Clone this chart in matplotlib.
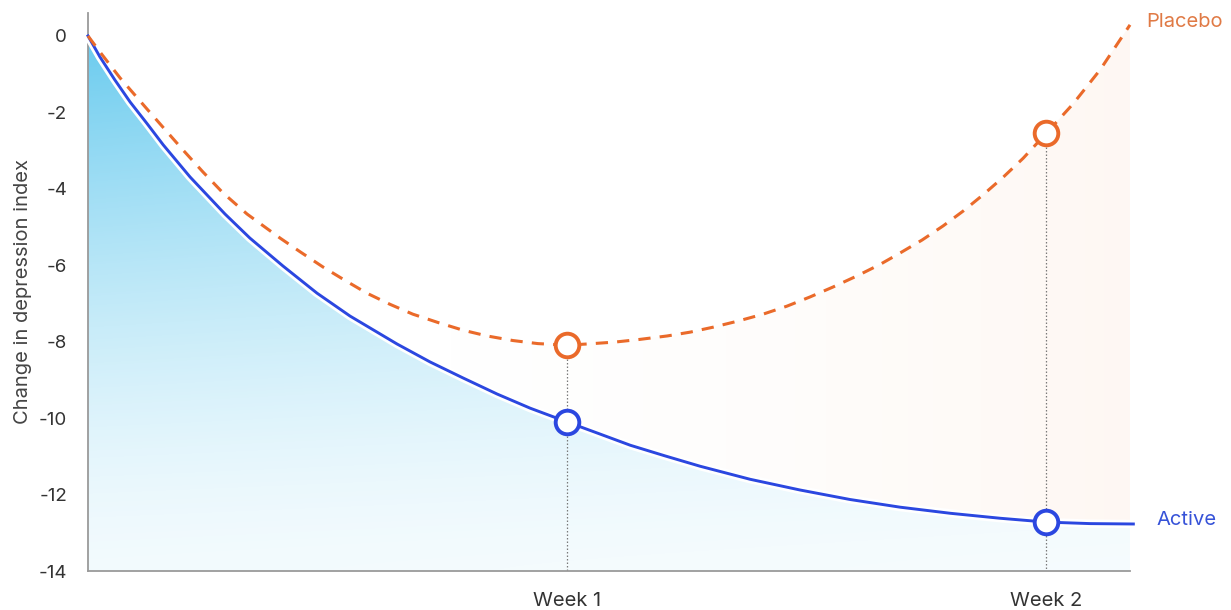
import numpy as np
import matplotlib
matplotlib.use("Agg")
import matplotlib.pyplot as plt
from matplotlib.path import Path

plt.rcParams['font.family'] = ['Inter', 'DejaVu Sans']

# time axis in weeks
active_x = [0.0, 0.025, 0.056, 0.088, 0.123, 0.157, 0.213, 0.286, 0.338, 0.407,
            0.478, 0.547, 0.645, 0.714, 0.783, 0.854, 0.923, 1.0, 1.063, 1.132,
            1.205, 1.278, 1.382, 1.486, 1.591, 1.695, 1.80, 1.904, 2.0, 2.092, 2.182]
active_y = [0.0, -0.55, -1.15, -1.73, -2.29, -2.85, -3.69, -4.66, -5.29, -6.02,
            -6.73, -7.33, -8.06, -8.53, -8.95, -9.37, -9.74, -10.10, -10.39, -10.71,
            -10.99, -11.26, -11.60, -11.88, -12.13, -12.33, -12.49, -12.62, -12.72,
            -12.76, -12.77]

placebo_x = [0.0, 0.025, 0.067, 0.123, 0.165, 0.198, 0.240, 0.282, 0.332, 0.401,
             0.443, 0.491, 0.537, 0.582, 0.630, 0.678, 0.731, 0.783, 0.833, 0.887,
             0.939, 1.0, 1.042, 1.100, 1.152, 1.209, 1.257, 1.305, 1.357, 1.409,
             1.459, 1.507, 1.555, 1.605, 1.653, 1.695, 1.741, 1.785, 1.827, 1.868,
             1.910, 1.952, 2.0, 2.056, 2.113, 2.175]
placebo_y = [0.0, -0.42, -1.10, -1.91, -2.51, -2.98, -3.56, -4.11, -4.66, -5.29,
             -5.65, -6.05, -6.40, -6.73, -7.02, -7.28, -7.50, -7.70, -7.85, -7.97,
             -8.05, -8.09, -8.06, -8.01, -7.94, -7.85, -7.75, -7.62, -7.46, -7.28,
             -7.07, -6.83, -6.57, -6.28, -5.98, -5.68, -5.34, -4.97, -4.58, -4.16,
             -3.70, -3.20, -2.55, -1.78, -0.88, 0.29]

weeks = [1, 2]
week_labels = ['Week 1', 'Week 2']
active_marks = [-10.1, -12.72]
placebo_marks = [-8.09, -2.55]

y_ticks = [0, -2, -4, -6, -8, -10, -12, -14]

BLUE = '#2b47e0'
ORANGE = '#ea6a2a'
AXIS_GREY = '#9a9a9a'

fig = plt.figure(figsize=(12.31, 6.10), dpi=100)
ax = fig.add_axes([88 / 1231, 39 / 610, 1042 / 1231, 558 / 610])

x_end = placebo_x[-1]
y_lo, y_hi = -14, 0.6

# blue gradient under the active curve
ny, nx = 300, 400
gx = np.linspace(0, active_x[-1], nx)
gy = np.linspace(-14, 0, ny)
GX, GY = np.meshgrid(gx, gy)
yfrac = (GY + 14) / 14
alpha = 0.08 + 0.84 * yfrac ** 1.5
alpha *= 1 - 0.3 * GX / active_x[-1]
blue_img = np.zeros((ny, nx, 4))
blue_img[..., 0] = 0.36
blue_img[..., 1] = 0.78
blue_img[..., 2] = 0.93
blue_img[..., 3] = np.clip(alpha, 0, 1)
im = ax.imshow(blue_img, extent=[0, active_x[-1], -14, 0], origin='lower',
               aspect='auto', interpolation='bilinear', zorder=1)
verts = list(zip(active_x, active_y)) + [(active_x[-1], -14), (0, -14), (0, 0)]
im.set_clip_path(Path(verts), ax.transData)

# faint peach wash between the two curves, growing to the right
ox = np.linspace(0, x_end, nx)
OX, OY = np.meshgrid(ox, np.linspace(-14, 0.6, ny))
oalpha = 0.085 * np.clip((OX - 0.3) / 1.85, 0, 1) ** 2.2
org_img = np.zeros((ny, nx, 4))
org_img[..., 0] = 0.98
org_img[..., 1] = 0.66
org_img[..., 2] = 0.44
org_img[..., 3] = oalpha
im2 = ax.imshow(org_img, extent=[0, x_end, -14, 0.6], origin='lower',
                aspect='auto', interpolation='bilinear', zorder=1)
act_interp = np.interp(placebo_x, active_x, active_y)
band = list(zip(placebo_x, placebo_y)) + list(zip(placebo_x[::-1], act_interp[::-1]))
im2.set_clip_path(Path(band), ax.transData)

# dotted drop lines at each week
for wk, top in zip(weeks, placebo_marks):
    ax.plot([wk, wk], [top, -14], color='#7a7a7a', lw=0.9,
            linestyle=(0, (1.2, 1.6)), zorder=2)

# active curve with a white halo separating it from the fill
ax.plot(active_x, active_y, color='white', lw=6, zorder=3, clip_on=False,
        solid_capstyle='butt')
ax.plot(active_x, active_y, color=BLUE, lw=2.1, zorder=4, clip_on=False)
ax.plot(placebo_x, placebo_y, color=ORANGE, lw=2.2, dashes=(4, 3), zorder=4,
        clip_on=False)

ax.plot(weeks, active_marks, 'o', ms=17, mfc='white', mec=BLUE, mew=2.8, zorder=5)
ax.plot(weeks, placebo_marks, 'o', ms=17, mfc='white', mec=ORANGE, mew=2.8, zorder=5)

ax.annotate('Placebo', (placebo_x[-1], placebo_y[-1]), xytext=(12, 2),
            textcoords='offset points', color='#e07a45', fontsize=14.5,
            va='center', ha='left', annotation_clip=False)
ax.annotate('Active', (active_x[-1], active_y[-1]), xytext=(17, 3),
            textcoords='offset points', color='#3652d8', fontsize=14.5,
            va='center', ha='left', annotation_clip=False)

ax.set_xlim(0, x_end)
ax.set_ylim(y_lo, y_hi)
ax.set_xticks(weeks)
ax.set_xticklabels(week_labels)
ax.set_yticks(y_ticks)
ax.set_yticklabels([str(t) for t in y_ticks])
ax.tick_params(axis='both', length=0, labelcolor='#333333')
ax.tick_params(axis='y', pad=15, labelsize=13.5)
ax.tick_params(axis='x', pad=15, labelsize=14.5)
ax.set_yticks([-14], minor=True)
ax.tick_params(axis='y', which='minor', length=7, width=1.2, color=AXIS_GREY)

ax.set_ylabel('Change in depression index', fontsize=14.5, color='#444444',
              labelpad=5)

for side in ('top', 'right'):
    ax.spines[side].set_visible(False)
for side in ('left', 'bottom'):
    ax.spines[side].set_color(AXIS_GREY)
    ax.spines[side].set_linewidth(1.3)

fig.savefig('out.png', dpi=100, facecolor='white')
